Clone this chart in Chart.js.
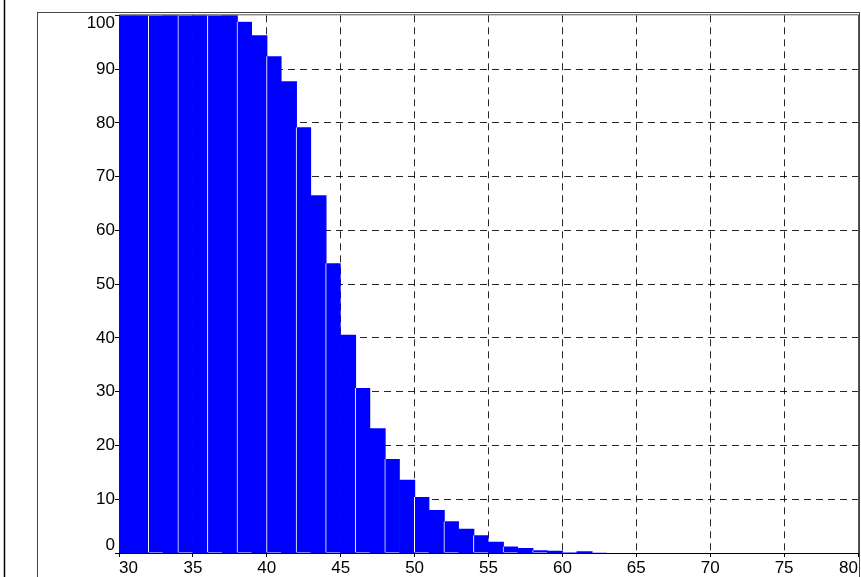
<!DOCTYPE html>
<html>
<head>
<meta charset="utf-8">
<script src="https://cdn.jsdelivr.net/npm/chart.js@4/dist/chart.umd.min.js"></script>
<style>
  html, body { margin: 0; padding: 0; background: #fff; }
  #wrap { width: 861px; height: 577px; }
</style>
</head>
<body>
<div id="wrap"><canvas id="chart" width="861" height="577"></canvas></div>
<script>
// histogram bins (left edge of each 1-wide bin) and their heights
const binStarts = [30, 31, 32, 33, 34, 35, 36, 37, 38, 39, 40, 41, 42, 43, 44, 45, 46,
  47, 48, 49, 50, 51, 52, 53, 54, 55, 56, 57, 58, 59, 60, 61, 62];
const binValues = [100, 100, 100, 100, 100, 100, 100, 100, 98.8, 96.2, 92.4, 87.6, 79.2,
  66.4, 53.9, 40.5, 30.7, 23.1, 17.5, 13.5, 10.4, 7.9, 5.9, 4.4, 3.3, 2.0, 1.2, 0.8,
  0.5, 0.3, 0.2, 0.2, 0.15];
const xTicks = [30, 35, 40, 45, 50, 55, 60, 65, 70, 75, 80];
const yTicks = [0, 10, 20, 30, 40, 50, 60, 70, 80, 90, 100];

const points = binStarts.map((s, i) => ({ x: s + 0.5, y: binValues[i] }));

const frame = {
  id: 'frame',
  beforeDraw(chart) {
    const c = chart.ctx;
    c.save();
    c.strokeStyle = '#000';
    c.lineWidth = 1.5;
    c.beginPath();
    c.moveTo(4.5, 0);
    c.lineTo(4.5, 577);
    c.stroke();
    c.strokeStyle = '#444';
    c.lineWidth = 1;
    c.strokeRect(37.5, 12.5, 822, 600);
    c.restore();
  },
  afterDraw(chart) {
    const a = chart.chartArea;
    const c = chart.ctx;
    c.save();
    c.strokeStyle = '#555';
    c.lineWidth = 1;
    c.beginPath();
    c.moveTo(a.left, a.top - 0.5);
    c.lineTo(a.right + 0.5, a.top - 0.5);
    c.lineTo(a.right + 0.5, a.bottom);
    c.stroke();
    c.restore();
  }
};

const gridColor = (edgeVals) => (ctx) =>
  (ctx.tick && edgeVals.includes(ctx.tick.value)) ? 'rgba(0,0,0,0)' : 'rgba(0,0,0,0.85)';

new Chart(document.getElementById('chart').getContext('2d'), {
  type: 'bar',
  data: {
    datasets: [{
      data: points,
      backgroundColor: '#0000ff',
      borderColor: '#ffffff',
      borderWidth: (ctx) => {
        const s = binStarts[ctx.dataIndex];
        return (s % 2 === 0 && s !== 30) ? { left: 1, top: 0, right: 0, bottom: 0 } : 0;
      },
      borderSkipped: false,
      inflateAmount: 0.6,
      barPercentage: 1,
      categoryPercentage: 1
    }]
  },
  options: {
    responsive: false,
    animation: false,
    layout: { padding: { left: 0, top: 15, right: 3, bottom: 0 } },
    plugins: { legend: { display: false }, tooltip: { enabled: false } },
    scales: {
      x: {
        type: 'linear',
        min: 30,
        max: 80,
        offset: false,
        z: 1,
        afterBuildTicks: (scale) => { scale.ticks = xTicks.map(v => ({ value: v })); },
        afterFit: (scale) => { scale.height = 24; },
        ticks: {
          align: 'inner',
          maxRotation: 0,
          padding: 1,
          color: '#000',
          font: { family: 'Liberation Sans', size: 17 }
        },
        grid: {
          offset: false,
          color: gridColor([30, 80]),
          tickLength: 4,
          tickColor: '#000',
          tickBorderDash: []
        },
        border: { display: true, color: '#000', width: 1, dash: [7, 5] }
      },
      y: {
        min: 0,
        max: 100,
        z: 1,
        afterBuildTicks: (scale) => { scale.ticks = yTicks.map(v => ({ value: v })); },
        afterFit: (scale) => { scale.width = 119; },
        ticks: {
          padding: 0,
          color: '#000',
          font: { family: 'Liberation Sans', size: 17, lineHeight: 0.9 },
          callback: (v) => v === 100 ? ['', '100'] : (v === 0 ? ['0', ''] : String(v))
        },
        grid: {
          color: gridColor([0, 100]),
          tickLength: 4,
          tickColor: '#000',
          tickBorderDash: []
        },
        border: { display: true, color: '#000', width: 1, dash: [7, 5] }
      }
    }
  },
  plugins: [frame]
});
</script>
</body>
</html>
